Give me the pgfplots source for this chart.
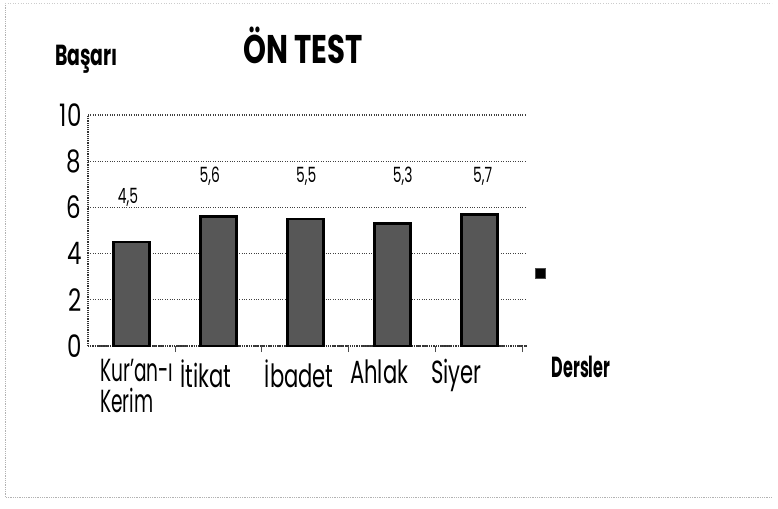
\documentclass[border=0pt]{standalone}
\usepackage{pgfplots}
\pgfplotsset{compat=1.18}
\usepackage{fontspec}
\setmainfont{Poppins}[FakeStretch=0.74]
\begin{document}
\begin{tikzpicture}[x=1pt,y=1pt]
\path[use as bounding box] (-88,-162) rectangle (690,346);
\draw[gray!60, densely dotted, line width=0.8] (-83,343) -- (-83,-151) -- (684,-151);
\draw[gray!40, dotted, line width=0.6] (-83,343) -- (684,343);
\begin{axis}[
  at={(0,0)}, anchor=south west,
  scale only axis, width=439pt, height=231pt,
  xmin=-0.5, xmax=4.55, ymin=0, ymax=10,
  ytick={0,2,4,6,8,10},
  xtick={0.06,0.86,1.93,2.85,3.74},
  xticklabels={{\addfontfeature{FakeStretch=0.58}Kur'an-ı\\\addfontfeature{FakeStretch=0.58}Kerim},İtikat,İbadet,Ahlak,Siyer},
  xticklabel style={align=left, font=\fontsize{32}{31}\selectfont\addfontfeature{FakeStretch=0.66}, yshift=-10pt},
  yticklabel style={font=\fontsize{31}{31}\selectfont, xshift=-3pt},
  /pgf/number format/assume math mode=true,
  major tick length=0pt,
  extra x ticks={0.5,1.5,2.5,3.5,4.5},
  extra x tick labels={},
  extra x tick style={major tick length=6pt, tick align=outside, tick style={black!70, line width=0.8pt}, tickpos=left},
  ymajorgrids,
  grid style={black!75, dotted, line width=1.1pt},
  axis x line*=bottom, axis y line*=left,
  axis line style={black!80, densely dotted, line width=1.2pt},
  x axis line style={-}, y axis line style={-},
  legend style={at={(1.035,0.315)}, anchor=center, draw=none, fill=none, inner sep=0pt},
  legend image code/.code={\fill[black!70] (0pt,-4pt) rectangle (8pt,4pt); \draw[black,line width=1pt] (0pt,-4pt) rectangle (8pt,4pt);},
]
\addplot[ybar, bar width=36pt, fill=black!66, draw=black, line width=2.8pt]
  coordinates {(0,4.5) (1,5.6) (2,5.5) (3,5.3) (4,5.7)};
\addlegendentry{}
\node[font=\fontsize{21}{21}\selectfont\addfontfeature{FakeStretch=0.66}] at (axis cs:-0.04,6.45) {4,5};
\node[font=\fontsize{21}{21}\selectfont\addfontfeature{FakeStretch=0.66}] at (axis cs:0.9,7.36) {5,6};
\node[font=\fontsize{21}{21}\selectfont\addfontfeature{FakeStretch=0.66}] at (axis cs:2.01,7.36) {5,5};
\node[font=\fontsize{21}{21}\selectfont\addfontfeature{FakeStretch=0.66}] at (axis cs:3.12,7.36) {5,3};
\node[font=\fontsize{21}{21}\selectfont\addfontfeature{FakeStretch=0.66}] at (axis cs:4.04,7.36) {5,7};
\end{axis}
\node[font=\bfseries\fontsize{29}{29}\selectfont\addfontfeature{FakeStretch=0.65}] at (-1.5,287) {Başarı};
\node[font=\bfseries\fontsize{40}{40}\selectfont\addfontfeature{FakeStretch=0.73}] at (215,301) {ÖN TEST};
\node[font=\bfseries\fontsize{29}{29}\selectfont\addfontfeature{FakeStretch=0.55}] at (493,-21) {Dersler};
\end{tikzpicture}
\end{document}
